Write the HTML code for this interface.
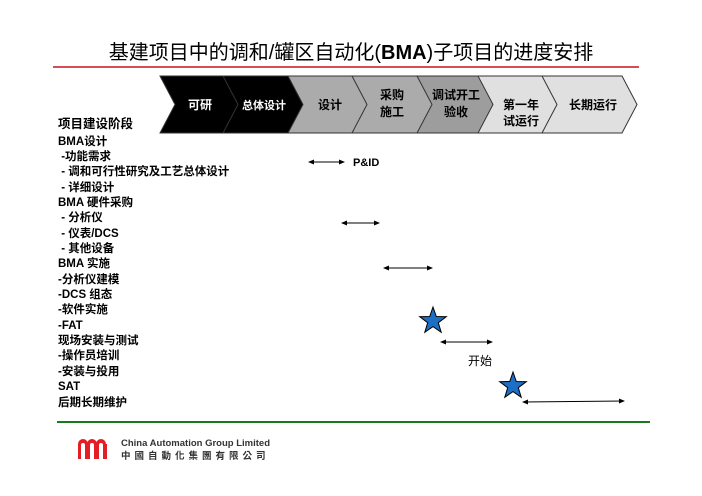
<!DOCTYPE html>
<html><head><meta charset="utf-8"><style>
body{margin:0;background:#fff;width:702px;height:496px;overflow:hidden;position:relative;font-family:"Liberation Sans","Noto Sans CJK SC",sans-serif}
.t{position:absolute;left:58px;font-size:11.5px;font-weight:bold;line-height:13px;white-space:nowrap;color:#000}
</style></head><body>
<div style="position:absolute;left:0;width:702px;top:36px;text-align:center;font-size:20px;color:#000;white-space:nowrap">基建项目中的调和/罐区自动化(<b>BMA</b>)子项目的进度安排</div>
<svg width="702" height="496" style="position:absolute;left:0;top:0" xmlns="http://www.w3.org/2000/svg">
<defs><marker id="a" markerWidth="6" markerHeight="6" refX="5" refY="3" orient="auto-start-reverse"><path d="M0,0.5 L6,3 L0,5.5z" fill="#000"/></marker></defs>
<line x1="53" y1="67" x2="639" y2="67" stroke="#c8141c" stroke-width="1.5"/>
<g stroke="#333" stroke-width="1" font-family="Liberation Sans,Noto Sans CJK SC,sans-serif" font-weight="bold" font-size="12" text-anchor="middle">
<polygon points="160,76 225,76 240,104.5 225,133 160,133 175,104.5" fill="#000"/>
<polygon points="223,76 289,76 304,104.5 289,133 223,133 238,104.5" fill="#000"/>
<polygon points="288,76 353,76 368,104.5 353,133 288,133 303,104.5" fill="#ababab"/>
<polygon points="352,76 418,76 433,104.5 418,133 352,133 367,104.5" fill="#ababab"/>
<polygon points="417,76 479,76 494,104.5 479,133 417,133 432,104.5" fill="#9d9d9d"/>
<polygon points="478,76 543,76 558,104.5 543,133 478,133 493,104.5" fill="#e0e0e0"/>
<polygon points="542,76 622,76 637,104.5 622,133 542,133 557,104.5" fill="#e0e0e0"/>
<g stroke="none">
<text x="200" y="109" fill="#fff">可研</text>
<text x="264" y="109" fill="#fff" font-size="11">总体设计</text>
<text x="330" y="109" fill="#000">设计</text>
<text x="392" y="99" fill="#000">采购</text><text x="392" y="116" fill="#000">施工</text>
<text x="456" y="99" fill="#000">调试开工</text><text x="456" y="116" fill="#000">验收</text>
<text x="521" y="109" fill="#000">第一年</text><text x="521" y="125" fill="#000">试运行</text>
<text x="593" y="109" fill="#000">长期运行</text>
</g></g>
<g stroke="#000" stroke-width="1" marker-start="url(#a)" marker-end="url(#a)">
<line x1="309" y1="162" x2="344" y2="162"/>
<line x1="342" y1="223" x2="379" y2="223"/>
<line x1="384" y1="268" x2="432" y2="268"/>
<line x1="441" y1="342" x2="492" y2="342"/>
<line x1="523" y1="402" x2="624" y2="401"/>
</g>
<text x="353" y="166" font-size="11" font-weight="bold" font-family="Liberation Sans,sans-serif">P&amp;ID</text>
<text x="468" y="365" font-size="12" font-family="Liberation Sans,Noto Sans CJK SC,sans-serif">开始</text>
<polygon transform="translate(433,321)" points="0,-14 3.3,-4.5 13.3,-4.3 5.3,1.7 8.2,11.3 0,5.6 -8.2,11.3 -5.3,1.7 -13.3,-4.3 -3.3,-4.5" fill="#1c6fc4" stroke="#000" stroke-width="1"/>
<polygon transform="translate(513,386)" points="0,-14 3.3,-4.5 13.3,-4.3 5.3,1.7 8.2,11.3 0,5.6 -8.2,11.3 -5.3,1.7 -13.3,-4.3 -3.3,-4.5" fill="#1c6fc4" stroke="#000" stroke-width="1"/>
<line x1="57" y1="422" x2="650" y2="422" stroke="#1a7a1a" stroke-width="2"/>
<g fill="#e31e24"><path d="M78,459 V444 a5,5 0 0 1 10,0 V459 h-3 V445 a2,2 0 0 0 -4,0 V459z"/><path d="M87,459 V444 a5,5 0 0 1 10,0 V459 h-3 V445 a2,2 0 0 0 -4,0 V459z"/><path d="M96,459 V444 a5,5 0 0 1 10,0 V459 h-3 V445 a2,2 0 0 0 -4,0 V459z"/><rect x="104" y="444" width="3" height="15"/></g>
<text x="121" y="446" font-size="9.5" font-weight="bold" fill="#333" font-family="Liberation Sans,sans-serif">China Automation Group Limited</text>
<text x="121" y="459" font-size="9.5" font-weight="bold" fill="#333" letter-spacing="4" font-family="Noto Sans CJK TC,sans-serif">中國自動化集團有限公司</text>
</svg>
<div class="t" style="top:118px;font-size:12.5px">项目建设阶段</div>
<div class="t" style="top:136px">BMA设计</div>
<div class="t" style="top:151px">&nbsp;-功能需求</div>
<div class="t" style="top:166px">&nbsp;- 调和可行性研究及工艺总体设计</div>
<div class="t" style="top:182px">&nbsp;- 详细设计</div>
<div class="t" style="top:197px">BMA 硬件采购</div>
<div class="t" style="top:212px">&nbsp;- 分析仪</div>
<div class="t" style="top:228px">&nbsp;- 仪表/DCS</div>
<div class="t" style="top:243px">&nbsp;- 其他设备</div>
<div class="t" style="top:258px">BMA 实施</div>
<div class="t" style="top:274px">-分析仪建模</div>
<div class="t" style="top:289px">-DCS 组态</div>
<div class="t" style="top:304px">-软件实施</div>
<div class="t" style="top:320px">-FAT</div>
<div class="t" style="top:335px">现场安装与测试</div>
<div class="t" style="top:350px">-操作员培训</div>
<div class="t" style="top:366px">-安装与投用</div>
<div class="t" style="top:381px">SAT</div>
<div class="t" style="top:397px">后期长期维护</div>
</body></html>
